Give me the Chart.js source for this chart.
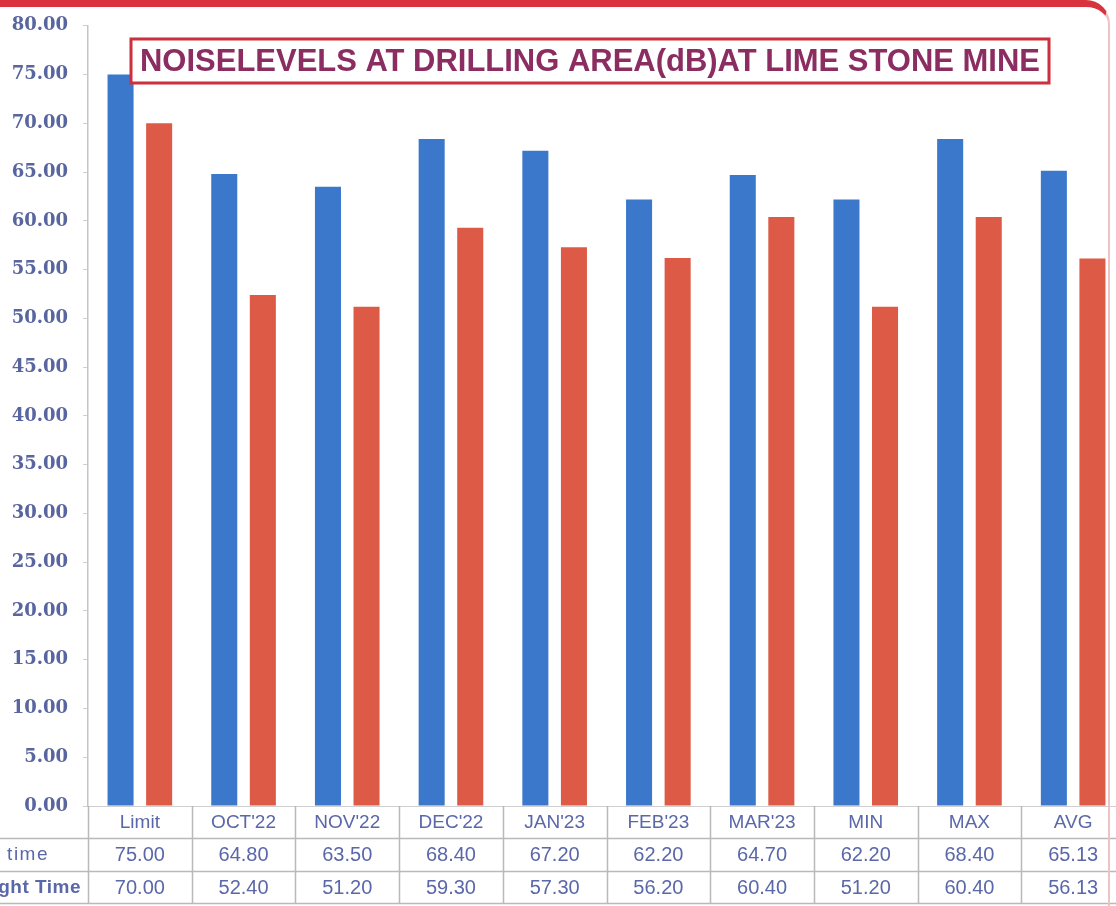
<!DOCTYPE html>
<html>
<head>
<meta charset="utf-8">
<script src="https://cdn.jsdelivr.net/npm/chart.js@4/dist/chart.umd.min.js"></script>
<style>
  html, body { margin: 0; padding: 0; background: #fff; overflow: hidden; }
  #wrap { position: relative; width: 1116px; height: 906px; overflow: hidden; }
  #chart-box { position: absolute; left: 0; top: 0; width: 1125px; height: 906px; }
  #frame {
    position: absolute; left: -40px; top: 0; width: 1150px; height: 960px;
    border-top: 7px solid #d9333e; border-right: 2px solid #eec3c6;
    border-top-right-radius: 24px; pointer-events: none; box-sizing: border-box;
  }
</style>
</head>
<body>
<div id="wrap">
  <div id="chart-box"><canvas id="noise-chart"></canvas></div>
  <div id="frame"></div>
</div>
<script>
(function () {
    "use strict";

    const categories = ["Limit", "OCT'22", "NOV'22", "DEC'22", "JAN'23", "FEB'23", "MAR'23", "MIN", "MAX", "AVG"];
    const dayTime = [75.00, 64.80, 63.50, 68.40, 67.20, 62.20, 64.70, 62.20, 68.40, 65.13];
    const nightTime = [70.00, 52.40, 51.20, 59.30, 57.30, 56.20, 60.40, 51.20, 60.40, 56.13];
    const seriesNames = ["Day time", "Night Time"];
    const chartTitle = "NOISELEVELS AT DRILLING AREA(dB)AT LIME STONE MINE";

    const BLUE = "#3b78cc";
    const RED = "#dd5a46";
    const TEXT = "#5a67a8";
    const LINE = "#b9b9b9";

    // data table under the plot, positioned from the category scale
    const dataTable = {
        id: "dataTable",
        afterDraw(chart) {
            const ctx = chart.ctx;
            const x = chart.scales.x;
            const area = chart.chartArea;
            const top = area.bottom;
            const rows = [top, 838, 871, 903];
            const half = (x.getPixelForValue(1) - x.getPixelForValue(0)) / 2;
            ctx.save();
            ctx.strokeStyle = LINE;
            ctx.lineWidth = 1.5;
            ctx.beginPath();
            for (let i = 0; i <= categories.length; i++) {
                const px = Math.round(x.getPixelForValue(0) - half + i * half * 2) + 0.5;
                ctx.moveTo(px, top);
                ctx.lineTo(px, rows[3]);
            }
            for (let r = 1; r < rows.length; r++) {
                ctx.moveTo(0, rows[r] + 0.5);
                ctx.lineTo(area.right, rows[r] + 0.5);
            }
            ctx.stroke();

            ctx.fillStyle = TEXT;
            ctx.textAlign = "center";
            ctx.textBaseline = "middle";
            categories.forEach(function (c, i) {
                const cx = x.getPixelForValue(i);
                ctx.font = "19px 'Liberation Sans', Arial, sans-serif";
                ctx.fillText(c, cx, 823);
                ctx.font = "20px 'Liberation Sans', Arial, sans-serif";
                ctx.fillText(dayTime[i].toFixed(2), cx, 855);
                ctx.fillText(nightTime[i].toFixed(2), cx, 888);
            });
            ctx.textAlign = "right";
            ctx.letterSpacing = "1.5px";
            ctx.font = "19px 'Liberation Sans', Arial, sans-serif";
            ctx.fillText(seriesNames[0], 49, 855);
            ctx.letterSpacing = "0.5px";
            ctx.font = "bold 19px 'Liberation Sans', Arial, sans-serif";
            ctx.fillText(seriesNames[1], 81, 888);
            ctx.restore();
        },
    };

    // boxed title drawn over the bars
    const boxedTitle = {
        id: "boxedTitle",
        afterDraw(chart) {
            const ctx = chart.ctx;
            ctx.save();
            ctx.fillStyle = "#fff";
            ctx.fillRect(131, 39, 918, 44);
            ctx.strokeStyle = "#cc2f3d";
            ctx.lineWidth = 3;
            ctx.strokeRect(131, 39, 918, 44);
            ctx.fillStyle = "#8c2d62";
            ctx.font = "bold 32px 'Liberation Sans', Arial, sans-serif";
            ctx.textAlign = "center";
            ctx.textBaseline = "middle";
            ctx.fillText(chartTitle, 590, 62, 900);
            ctx.restore();
        },
    };

    function initChart() {
        const canvas = document.getElementById("noise-chart");
        new Chart(canvas.getContext("2d"), {
            type: "bar",
            data: {
                labels: categories,
                datasets: [
                    {
                        label: seriesNames[0],
                        data: dayTime,
                        backgroundColor: BLUE,
                        categoryPercentage: 0.744,
                        barPercentage: 0.675,
                    },
                    {
                        label: seriesNames[1],
                        data: nightTime,
                        backgroundColor: RED,
                        categoryPercentage: 0.744,
                        barPercentage: 0.675,
                    },
                ],
            },
            options: {
                responsive: true,
                maintainAspectRatio: false,
                animation: false,
                layout: { padding: { top: 20, right: 0, left: 0, bottom: 0 } },
                plugins: {
                    legend: { display: false },
                    tooltip: { enabled: false },
                },
                scales: {
                    x: {
                        afterFit(scale) { scale.height = 100; },
                        ticks: { display: false },
                        grid: { display: false },
                        border: { display: true, color: "#cfcfcf", dash: [4, 4] },
                    },
                    y: {
                        min: 0,
                        max: 80,
                        afterFit(scale) { scale.width = 88; },
                        ticks: {
                            stepSize: 5,
                            padding: 15,
                            color: "#58659e",
                            font: { family: "'DejaVu Serif', serif", size: 18, weight: "bold" },
                            callback: function (v) { return Number(v).toFixed(2); },
                        },
                        grid: { drawOnChartArea: false, drawTicks: true, tickLength: 5, color: "#cfcfcf" },
                        border: { display: true, color: "#c4c4c4", width: 1.5 },
                    },
                },
            },
            plugins: [dataTable, boxedTitle],
        });
    }

    document.addEventListener("DOMContentLoaded", initChart);
})();
</script>
</body>
</html>
